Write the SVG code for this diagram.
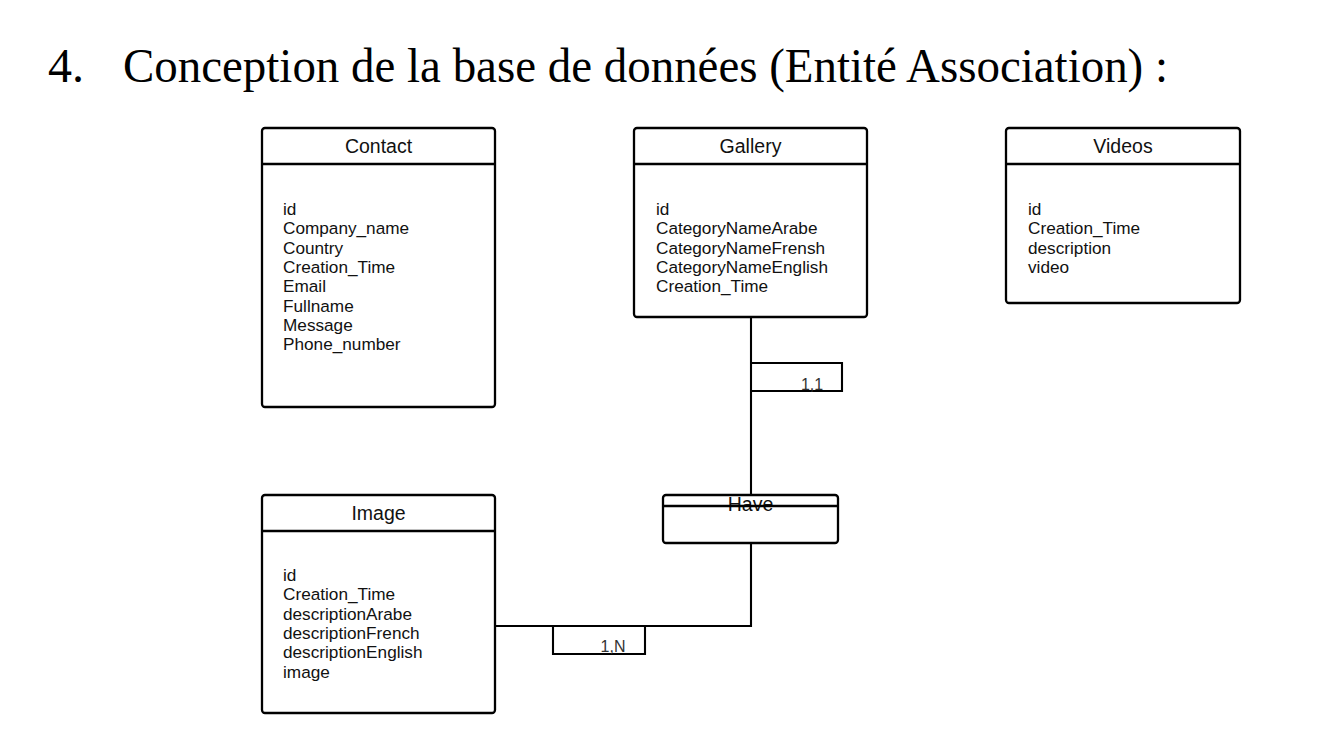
<svg xmlns="http://www.w3.org/2000/svg" width="1342" height="734" viewBox="0 0 1342 734">
<style>
.box{fill:#fff;stroke:#000;stroke-width:2.3}
.hl{stroke:#000;stroke-width:2.3}
.hd{font-family:"Liberation Sans",Arial,sans-serif;font-size:19.5px;fill:#111;text-anchor:middle}
.at{font-family:"Liberation Sans",Arial,sans-serif;font-size:17.2px;fill:#111}
.ln{fill:none;stroke:#000;stroke-width:2.1}
.lb{font-family:"Liberation Sans",Arial,sans-serif;font-size:16px;fill:#333;text-anchor:middle}
.tt{font-family:"Liberation Serif","Times New Roman",serif;font-size:48px;fill:#000}
</style>
<rect width="1342" height="734" fill="#fff"/>
<text class="tt" x="48" y="82">4.</text>
<text class="tt" x="123" y="82" textLength="1045" lengthAdjust="spacingAndGlyphs">Conception de la base de données (Entité Association) :</text>

<g id="connectors">
<line class="ln" x1="751" y1="317" x2="751" y2="495"/>
<path class="ln" d="M751 363 H842 V391 H751"/>
<text class="lb" x="812" y="390">1,1</text>
<path class="ln" d="M751 543 V626 H495"/>
<path class="ln" d="M553 626 V654 H645 V626"/>
<text class="lb" x="613" y="652">1,N</text>
</g>

<g id="contact">
<rect class="box" x="262" y="128" width="233" height="279" rx="3"/>
<line class="hl" x1="262" y1="164" x2="495" y2="164"/>
<text class="hd" x="378.5" y="153">Contact</text>
<text class="at" x="283" y="215">id</text>
<text class="at" x="283" y="234.3">Company_name</text>
<text class="at" x="283" y="253.6">Country</text>
<text class="at" x="283" y="272.9">Creation_Time</text>
<text class="at" x="283" y="292.2">Email</text>
<text class="at" x="283" y="311.5">Fullname</text>
<text class="at" x="283" y="330.8">Message</text>
<text class="at" x="283" y="350.1">Phone_number</text>
</g>

<g id="gallery">
<rect class="box" x="634" y="128" width="233" height="189" rx="3"/>
<line class="hl" x1="634" y1="164" x2="867" y2="164"/>
<text class="hd" x="750.5" y="153">Gallery</text>
<text class="at" x="656" y="215">id</text>
<text class="at" x="656" y="234.3">CategoryNameArabe</text>
<text class="at" x="656" y="253.6">CategoryNameFrensh</text>
<text class="at" x="656" y="272.9">CategoryNameEnglish</text>
<text class="at" x="656" y="292.2">Creation_Time</text>
</g>

<g id="videos">
<rect class="box" x="1006" y="128" width="234" height="175" rx="3"/>
<line class="hl" x1="1006" y1="164" x2="1240" y2="164"/>
<text class="hd" x="1123" y="153">Videos</text>
<text class="at" x="1028" y="215">id</text>
<text class="at" x="1028" y="234.3">Creation_Time</text>
<text class="at" x="1028" y="253.6">description</text>
<text class="at" x="1028" y="272.9">video</text>
</g>

<g id="image">
<rect class="box" x="262" y="495" width="233" height="218" rx="3"/>
<line class="hl" x1="262" y1="531" x2="495" y2="531"/>
<text class="hd" x="378.5" y="520">Image</text>
<text class="at" x="283" y="581">id</text>
<text class="at" x="283" y="600.3">Creation_Time</text>
<text class="at" x="283" y="619.6">descriptionArabe</text>
<text class="at" x="283" y="638.9">descriptionFrench</text>
<text class="at" x="283" y="658.2">descriptionEnglish</text>
<text class="at" x="283" y="677.5">image</text>
</g>

<g id="have">
<rect class="box" x="663" y="495" width="175" height="48" rx="3"/>
<text class="hd" x="750.5" y="511">Have</text>
<line class="hl" x1="663" y1="506" x2="838" y2="506"/>
</g>
</svg>
